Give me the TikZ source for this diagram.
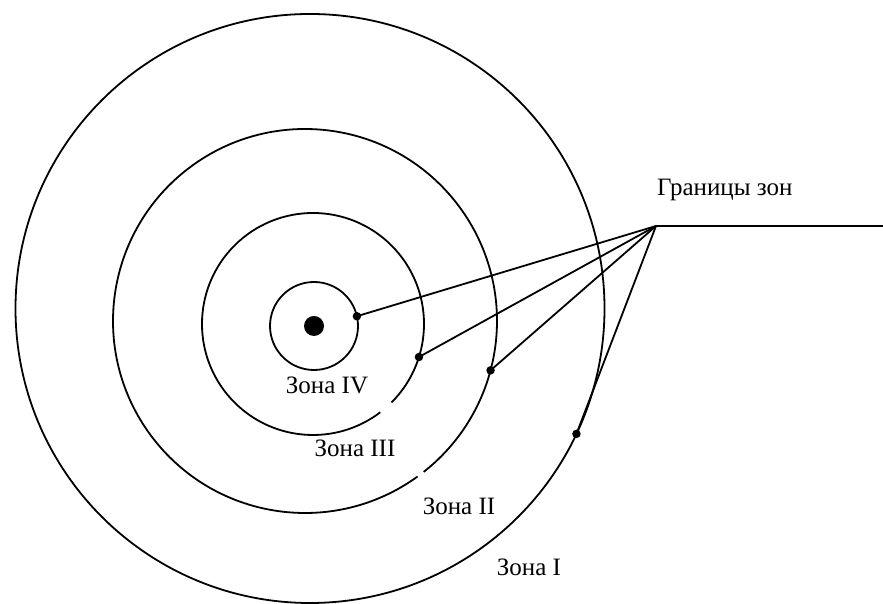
\documentclass[tikz,border=0pt]{standalone}
\usepackage{fontspec}
\setmainfont{Liberation Serif}
\usetikzlibrary{calc}

\begin{document}
\begin{tikzpicture}[x=1pt,y=1pt,
    ring/.style={line width=1.8pt},
    leader/.style={line width=1.8pt},
    zonelabel/.style={inner sep=0pt,font=\fontsize{25}{30}\selectfont},
    pindot/.style={circle,fill=black,inner sep=0pt,minimum size=8.5pt}
  ]
  \useasboundingbox (0,0) rectangle (883,604);
  \coordinate (cI) at (310,295.5);
  \coordinate (cII) at (305,283);
  \coordinate (cIII) at (313,280);
  \coordinate (cIV) at (314,278);
  \draw[ring] (cI) circle (294.5);
  \draw[ring] ($(cII)+(-51.8:192)$) arc[start angle=-51.8,end angle=305.9,radius=192];
  \draw[ring] ($(cIII)+(-45:111)$) arc[start angle=-45,end angle=307.3,radius=111];
  \draw[ring] (cIV) circle (44);
  \fill (cIV) circle (10);
  \node[pindot] (pIV) at ($(cIV)+(12.8:44)$) {};
  \node[pindot] (pIII) at ($(cIII)+(-17.3:111)$) {};
  \node[pindot] (pII) at ($(cII)+(-14.9:192)$) {};
  \node[pindot] (pI) at ($(cI)+(-25.2:294.5)$) {};
  \coordinate (hub) at (656,378);
  \coordinate (tail) at (883,378);
  \draw[leader] (tail) -- (hub);
  \foreach \p in {pIV,pIII,pII,pI}
    \draw[leader] (hub) -- (\p.center);
  \node[zonelabel,anchor=base west] (bounds) at (657,408) {Границы зон};
  \node[zonelabel] (zIV) at (327,219) {Зона IV};
  \node[zonelabel] (zIII) at (355,156) {Зона III};
  \node[zonelabel] (zII) at (459,98) {Зона II};
  \node[zonelabel] (zI) at (529,37) {Зона I};
\end{tikzpicture}
\end{document}
